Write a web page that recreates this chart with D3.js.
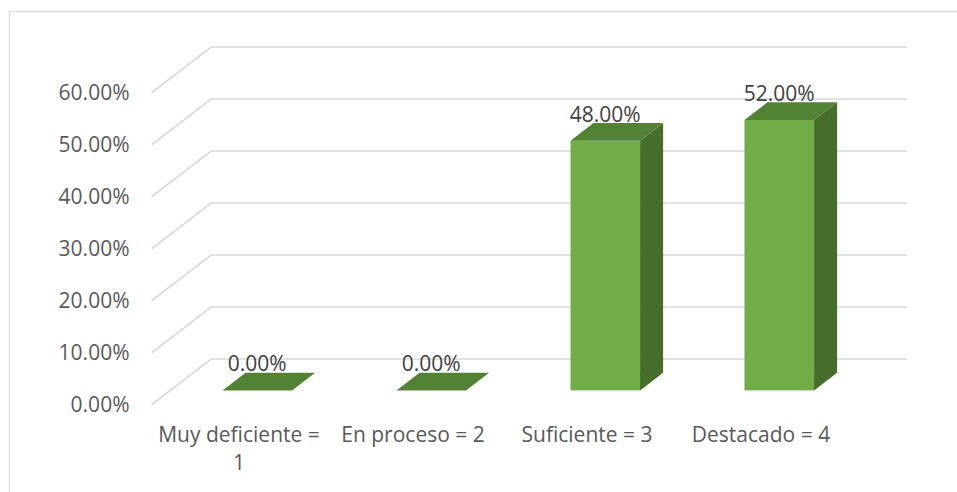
<!DOCTYPE html>
<html>
<head>
<meta charset="utf-8">
<script src="https://cdn.jsdelivr.net/npm/d3@7"></script>
<style>
body { margin: 0; background: #fff; }
svg text { font-family: "Open Sans", "Liberation Sans", sans-serif; }
</style>
</head>
<body>
<div id="chart"></div>
<script>
var categories = ["Muy deficiente = 1", "En proceso = 2", "Suficiente = 3", "Destacado = 4"];
var values = [0, 0, 0.48, 0.52];
var yTicks = [0, 0.1, 0.2, 0.3, 0.4, 0.5, 0.6];

var width = 957, height = 492,
    plot = { left: 152, right: 848, top: 92.5, bottom: 404.5 },
    depth = { dx: 59, dy: -45.5 },
    barFront = 0.31, barBack = 0.70,
    colors = { front: "#70ad47", top: "#548235", side: "#476d2b", grid: "#d9d9d9", axis: "#595959", label: "#404040" },
    fontSize = 21;

var x = d3.scaleBand().domain(categories).range([plot.left, plot.right]);
var y = d3.scaleLinear().domain([0, 0.6]).range([plot.bottom, plot.top]);
var fmt = d3.format(".2%");

var svg = d3.select("#chart").append("svg")
    .attr("width", width)
    .attr("height", height);

svg.append("rect")
    .attr("width", width).attr("height", height)
    .attr("fill", "#fff");

// chart area border
svg.append("rect")
    .attr("x", 9.5).attr("y", 11.5)
    .attr("width", width).attr("height", height)
    .attr("fill", "none")
    .attr("stroke", colors.grid)
    .attr("stroke-width", 1.3);

// gridlines on the side wall + back wall
svg.selectAll(".grid")
    .data(yTicks)
    .enter().append("path")
    .attr("class", "grid")
    .attr("fill", "none")
    .attr("stroke", colors.grid)
    .attr("stroke-width", 1.6)
    .attr("d", function (d) {
        var yy = y(d);
        return "M" + plot.left + "," + yy +
            "L" + (plot.left + depth.dx) + "," + (yy + depth.dy) +
            "L" + (plot.right + depth.dx) + "," + (yy + depth.dy);
    });

svg.selectAll(".yLabel")
    .data(yTicks)
    .enter().append("text")
    .attr("class", "yLabel")
    .text(function (d) { return fmt(d); })
    .attr("x", 129.5)
    .attr("y", function (d) { return y(d); })
    .attr("dy", "0.36em")
    .style("text-anchor", "end")
    .style("font-size", fontSize + "px")
    .attr("fill", colors.axis);

var bars = categories.map(function (c, i) {
    var bw = x.bandwidth() * 0.4;
    var x0 = x(c) + x.bandwidth() * 0.3 + barFront * depth.dx;
    return {
        cat: c, value: values[i], bw: bw, x0: x0,
        yb: y(0) + barFront * depth.dy,
        yt: y(values[i]) + barFront * depth.dy,
        ox: (barBack - barFront) * depth.dx,
        oy: (barBack - barFront) * depth.dy
    };
});

var bar = svg.selectAll(".bar")
    .data(bars)
    .enter().append("g")
    .attr("class", "bar");

bar.append("rect")
    .attr("x", function (d) { return d.x0; })
    .attr("y", function (d) { return d.yt; })
    .attr("width", function (d) { return d.bw; })
    .attr("height", function (d) { return d.yb - d.yt; })
    .attr("fill", colors.front);

bar.append("path")
    .attr("fill", colors.side)
    .attr("d", function (d) {
        var xr = d.x0 + d.bw;
        return "M" + xr + "," + d.yt + "L" + (xr + d.ox) + "," + (d.yt + d.oy) +
            "L" + (xr + d.ox) + "," + (d.yb + d.oy) + "L" + xr + "," + d.yb + "Z";
    });

bar.append("path")
    .attr("fill", colors.top)
    .attr("d", function (d) {
        return "M" + d.x0 + "," + d.yt + "L" + (d.x0 + d.ox) + "," + (d.yt + d.oy) +
            "L" + (d.x0 + d.bw + d.ox) + "," + (d.yt + d.oy) + "L" + (d.x0 + d.bw) + "," + d.yt + "Z";
    });

svg.selectAll(".dataLabel")
    .data(bars)
    .enter().append("text")
    .attr("class", "dataLabel")
    .text(function (d) { return fmt(d.value); })
    .attr("x", function (d) { return d.x0 + d.bw / 2; })
    .attr("y", function (d) { return d.yt + d.oy - 1.5; })
    .style("text-anchor", "middle")
    .style("font-size", fontSize + "px")
    .attr("fill", colors.label);

var xLabels = svg.selectAll(".xLabel")
    .data(categories)
    .enter().append("text")
    .attr("class", "xLabel")
    .attr("x", function (d) { return x(d) + x.bandwidth() / 2; })
    .attr("y", 441.5)
    .style("text-anchor", "middle")
    .style("font-size", fontSize + "px")
    .attr("fill", colors.axis)
    .text(function (d) { return d; });

xLabels.each(function () { wrap(d3.select(this), x.bandwidth()); });

function wrap(text, maxWidth) {
    var words = text.text().split(/\s+/),
        xx = text.attr("x"),
        line = [],
        tspan = text.text(null).append("tspan").attr("x", xx);
    words.forEach(function (w) {
        line.push(w);
        tspan.text(line.join(" "));
        if (tspan.node().getComputedTextLength() > maxWidth && line.length > 1) {
            line.pop();
            tspan.text(line.join(" "));
            line = [w];
            tspan = text.append("tspan").attr("x", xx).attr("dy", "28px").text(w);
        }
    });
}
</script>
</body>
</html>
